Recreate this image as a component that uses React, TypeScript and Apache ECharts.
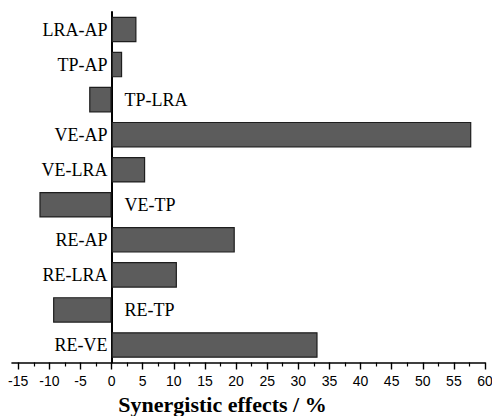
import React, { useEffect, useRef } from "react";
import * as echarts from "echarts";

const categories = [
  "LRA-AP",
  "TP-AP",
  "TP-LRA",
  "VE-AP",
  "VE-LRA",
  "VE-TP",
  "RE-AP",
  "RE-LRA",
  "RE-TP",
  "RE-VE",
];
const effects = [4.0, 1.7, -3.6, 57.8, 5.4, -11.6, 19.8, 10.5, -9.4, 33.1];
const majorTicks = [-15, -10, -5, 0, 5, 10, 15, 20, 25, 30, 35, 40, 45, 50, 55, 60];
const minorTicks = [-12.5, -7.5, -2.5, 2.5, 7.5, 12.5, 17.5, 22.5, 27.5, 32.5, 37.5, 42.5, 47.5, 52.5, 57.5];
const xTitle = "Synergistic effects / %";

export default function App() {
  const ref = useRef<HTMLDivElement>(null);
  useEffect(() => {
    if (!ref.current) return;
    const chart = echarts.init(ref.current, null, { renderer: "svg" });
    const serif = "'Liberation Serif', 'Times New Roman', serif";
    const sans = "'Liberation Sans', Arial, sans-serif";
    const barData = effects.map((v) => ({
      value: v,
      label: v >= 0 ? { position: "left", distance: 4 } : { position: "right", distance: 13 },
    }));
    chart.setOption({
      animation: false,
      backgroundColor: "#ffffff",
      grid: {
        left: 12,
        right: 7,
        top: 12,
        bottom: 53.5,
        containLabel: false,
        outerBoundsMode: "none",
      },
      xAxis: [
        {
          type: "value",
          min: -16,
          max: 60,
          position: "bottom",
          splitLine: { show: false },
          axisLine: { show: true, onZero: false, lineStyle: { color: "#000", width: 1.6 } },
          axisTick: {
            show: true,
            customValues: majorTicks,
            length: 7,
            lineStyle: { color: "#000", width: 1.4 },
          },
          axisLabel: {
            show: true,
            customValues: majorTicks,
            fontFamily: sans,
            fontSize: 14,
            color: "#000",
            margin: 11,
          },
        },
        {
          type: "value",
          min: -16,
          max: 60,
          position: "bottom",
          offset: 0,
          splitLine: { show: false },
          axisLine: { show: false, onZero: false },
          axisTick: {
            show: true,
            customValues: minorTicks,
            length: 4,
            lineStyle: { color: "#000", width: 1.2 },
          },
          axisLabel: { show: false },
        },
      ],
      yAxis: [
        {
          type: "category",
          data: categories,
          inverse: true,
          position: "left",
          axisLine: {
            show: true,
            onZero: true,
            onZeroAxisIndex: 0,
            lineStyle: { color: "#000", width: 2 },
          },
          axisTick: { show: false },
          splitLine: { show: false },
          axisLabel: { show: false },
        },
      ],
      series: [
        {
          type: "bar",
          xAxisIndex: 0,
          yAxisIndex: 0,
          data: barData,
          barCategoryGap: "27%",
          itemStyle: { color: "#5c5c5c", borderColor: "#1e1e1e", borderWidth: 1.2 },
          label: {
            show: true,
            formatter: "{b}",
            fontFamily: serif,
            fontSize: 18,
            color: "#000",
          },
        },
      ],
      graphic: [
        {
          type: "text",
          x: 222.5,
          y: 404,
          style: {
            text: xTitle,
            fontFamily: serif,
            fontWeight: "bold",
            fontSize: 22,
            fill: "#000",
            textAlign: "center",
            textVerticalAlign: "middle",
          },
        },
      ],
    });
    return () => chart.dispose();
  }, []);
  return (
    <div
      ref={ref}
      style={{ position: "fixed", left: 0, top: 0, width: 492, height: 416, background: "#fff" }}
    />
  );
}
